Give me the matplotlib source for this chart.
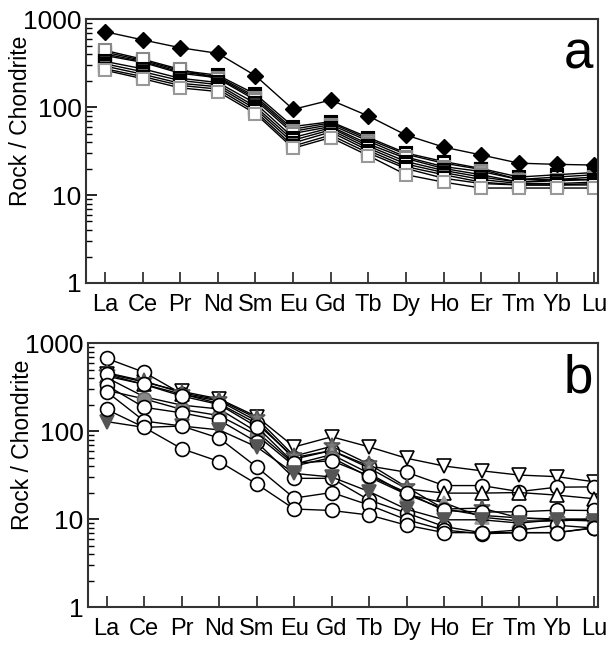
import numpy as np
import matplotlib
matplotlib.use("Agg")
import matplotlib.pyplot as plt
from matplotlib.ticker import LogLocator, FixedLocator, NullFormatter

plt.rcParams['font.family'] = ['Liberation Sans', 'DejaVu Sans']

elements = ["La", "Ce", "Pr", "Nd", "Sm", "Eu", "Gd", "Tb", "Dy", "Ho", "Er", "Tm", "Yb", "Lu"]

# panel a: one enriched sample (diamonds) and the square-marker group
diamond_a = [718, 580, 472, 407, 227, 94, 120, 79, 48, 35, 28.5, 23, 22.3, 21.9]
squares_a = [
    [420, 340, 260, 230, 140, 60, 68, 45, 30, 24, 20, 16, 17, 18],
    [400, 330, 250, 222, 132, 56, 66, 43, 29, 23, 19.5, 15, 16, 17],
    [385, 322, 242, 215, 126, 53, 63, 41, 27, 21, 18.5, 15, 15, 16],
    [440, 350, 268, 210, 120, 50, 60, 38, 26, 20, 17, 14, 15, 15],
    [330, 272, 212, 190, 110, 45, 58, 36, 24, 19, 16, 14, 14.5, 15],
    [310, 252, 200, 180, 101, 42, 55, 34, 22.5, 18, 15, 13.5, 13.5, 14],
    [292, 236, 186, 170, 95, 39, 52, 32, 21, 17, 14, 13, 13, 13.5],
    [272, 222, 176, 160, 89, 36, 48, 30, 20, 15.5, 13.5, 13, 13, 13],
    [262, 210, 165, 150, 84, 34, 45, 28, 17, 14, 12, 12, 12, 12],
]
sq_face = ["#555555", "white", "#999999", "white", "#333333", "white", "#777777", "white", "white"]
sq_edge = ["black", "black", "#888888", "#888888", "black", "black", "black", "black", "#999999"]

# panel b: mixed marker groups
series_b = [
    # values, marker, face, edge
    ([450, 360, 282, 232, 146, 66, 86, 66, 49, 40, 35.3, 31.6, 30.3, 26.5], "v", "white", "black"),
    ([670, 465, 265, 205, 122, 50, 60, 40, 34, 24, 24, 20.5, 23, 23.2], "o", "white", "black"),
    ([420, 340, 262, 220, 130, 48, 60, 38, 22, 19.7, 19.7, 20, 18.7, 17], "^", "white", "black"),
    ([460, 370, 272, 226, 140, 52, 67, 42, 23, 13, 13.3, 10.3, 9.8, 9.8], "*", "#777777", "#555555"),
    ([405, 245, 197, 178, 98, 42, 54, 33, 19, 15.3, 10.5, 9.5, 9.5, 10], "^", "#999999", "#999999"),
    ([290, 232, 176, 150, 90, 40, 50, 30, 19, 13, 11, 10.3, 10, 10], "o", "#888888", "#666666"),
    ([440, 338, 250, 200, 112, 43, 46, 31, 20, 12.5, 12, 12.1, 12.6, 12.5], "o", "white", "black"),
    ([330, 186, 161, 133, 75, 29, 29, 16.4, 11.7, 8.2, 7, 7.5, 8.5, 7.9], "o", "white", "black"),
    ([128, 110, 114, 103, 66, 33, 30, 20.5, 12.9, 9.8, 9.8, 9, 9.8, 9.5], "v", "#555555", "#555555"),
    ([280, 130, 114, 83, 39, 17.3, 20, 14.4, 9.8, 7.5, 6.8, 7, 7, 8], "o", "white", "black"),
    ([176, 110, 63, 45, 25, 13, 12.5, 11.1, 8.5, 7, 7, 7, 7, 7.9], "o", "white", "black"),
]

x = np.arange(len(elements))

fig = plt.figure(figsize=(6.09, 6.47), dpi=100)
ax_a = fig.add_axes([0.141, 0.5626, 0.841, 0.408])
ax_b = fig.add_axes([0.144, 0.0618, 0.838, 0.408])


def style_axes(ax, letter, label_y):
    ax.set_yscale("log")
    ax.set_ylim(1, 1000)
    ax.set_xlim(-0.505, 13.1)
    ax.set_xticks(x)
    ax.set_xticklabels(elements)
    ax.yaxis.set_major_locator(FixedLocator([1, 10, 100, 1000]))
    ax.set_yticklabels(["1", "10", "100", "1000"])
    ax.yaxis.set_minor_locator(LogLocator(base=10, subs=np.arange(2, 10)))
    ax.yaxis.set_minor_formatter(NullFormatter())
    ax.tick_params(axis="x", direction="in", length=8, width=1.2, pad=8,
                   labelsize=17, top=False, colors="#222222", labelcolor="black")
    ax.tick_params(axis="y", which="major", direction="in", length=8, width=1.2,
                   pad=3, labelsize=19, right=False)
    ax.tick_params(axis="y", which="minor", direction="in", length=4.5, width=1.0, right=False)
    for s in ax.spines.values():
        s.set_linewidth(1.5)
        s.set_color("#333333")
    ax.set_ylabel("Rock / Chondrite", fontsize=16.5)
    ax.yaxis.set_label_coords(-0.105, label_y)
    ax.text(0.99, 0.96, letter, transform=ax.transAxes, ha="right", va="top", fontsize=38)


# panel a
for vals, fc, ec in zip(squares_a, sq_face, sq_edge):
    ax_a.plot(x, vals, color="black", lw=1.0, marker="s", ms=9,
              mfc=fc, mec=ec, mew=1.5)
ax_a.plot(x, diamond_a, color="black", lw=1.0, marker="D", ms=8, mfc="black", mec="black")
style_axes(ax_a, "a", 0.615)

# panel b
for vals, mk, fc, ec in series_b:
    ms = 12 if mk == "*" else 10
    ax_b.plot(x, vals, color="black", lw=1.0, marker=mk, ms=ms,
              mfc=fc, mec=ec, mew=1.2)
style_axes(ax_b, "b", 0.615)

fig.savefig("out.png", dpi=100)
